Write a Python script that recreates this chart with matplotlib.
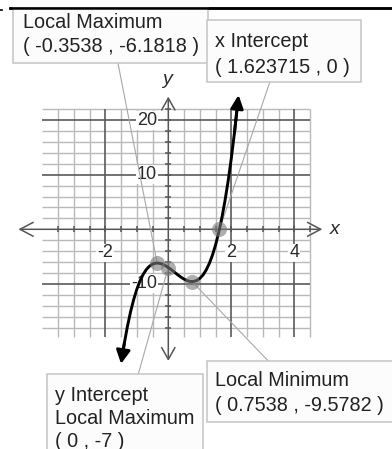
import matplotlib
matplotlib.use('Agg')
import matplotlib.pyplot as plt
from matplotlib.patches import Rectangle
from matplotlib.lines import Line2D

# ---- data ----
curve_x = [-1.5, -1.45, -1.4, -1.3, -1.2, -1.1, -1.0, -0.9, -0.8, -0.7, -0.6, -0.5,
           -0.4, -0.3, -0.2, -0.1, 0.0, 0.1, 0.2, 0.3, 0.4, 0.5, 0.6, 0.7, 0.8,
           0.9, 1.0, 1.1, 1.2, 1.3, 1.4, 1.5, 1.6, 1.7, 1.8, 1.9, 2.0, 2.1, 2.2, 2.23]
curve_y = [-24.625, -22.75, -21.0, -17.855, -15.16, -12.885, -11.0, -9.475, -8.28,
           -7.385, -6.76, -6.375, -6.2, -6.205, -6.36, -6.635, -7.0, -7.425, -7.88,
           -8.335, -8.76, -9.125, -9.4, -9.555, -9.56, -9.385, -9.0, -8.375, -7.48,
           -6.285, -4.76, -2.875, -0.6, 2.095, 5.24, 8.865, 13.0, 17.675, 22.92, 24.61]

point_x = [-0.3538, 0.0, 0.7538, 1.623715]
point_y = [-6.1818, -7.0, -9.5782, 0.0]

x_tick_vals = [-2, 2, 4]
x_tick_labels = ['-2', '2', '4']
y_tick_vals = [-10, 10, 20]
y_tick_labels = ['-10', '10', '20']

box_lines = [
    ['Local Maximum', '( -0.3538 , -6.1818 )'],
    ['x Intercept', '( 1.623715 , 0 )'],
    ['y Intercept', 'Local Maximum', '( 0 , -7 )'],
    ['Local Minimum', '( 0.7538 , -9.5782 )'],
]
box_point = [0, 3, 1, 2]

# ---- layout (pixels, top-left origin) ----
W, H = 392, 449
X0, SX = 168.3, 31.5
Y0, SY = 229.3, 5.46
box_rects = [(13.3, 8.3, 208.0, 63.3), (206.7, 20.0, 360.7, 81.7),
             (47.3, 374.0, 203.3, 470.0), (206.7, 360.7, 410.0, 421.7)]
box_text_pos = [(22.7, [27.5, 52.2]), (215.0, [47.3, 73.0]),
                (55.0, [400.7, 424.0, 446.8]), (215.0, [386.5, 411.0])]
leader_anchor = [(118.0, 63.3), (270.0, 81.7), (138.3, 374.0), (268.0, 360.7)]

plt.rcParams['font.family'] = ['Liberation Sans', 'DejaVu Sans']

fig = plt.figure(figsize=(W / 100, H / 100), dpi=100)
fig.patch.set_facecolor('white')
ax = fig.add_axes([0, 0, 1, 1])
ax.set_xlim(-X0 / SX, (W - X0) / SX)
ax.set_ylim(-(H - Y0) / SY, Y0 / SY)
ax.axis('off')


def fp(x, y):
    return (x / W, 1 - y / H)


minor_c, major_c, axis_c = '#b9b9b9', '#5a5a5a', '#555555'

# grid
gy_lo, gy_hi = -19.7, 22
gx_lo, gx_hi = -4, 4.5
for i in range(-7, 10):
    gx = i * 0.5
    if gx == 0:
        continue
    major = gx in (-2, 2, 4)
    ax.plot([gx, gx], [gy_lo, gy_hi], color=major_c if major else minor_c,
            lw=1.2 if major else 1.0, zorder=2 if major else 1, solid_capstyle='butt')
for gy in range(-18, 23, 2):
    if gy == 0:
        continue
    major = gy in (-10, 10, 20)
    ax.plot([gx_lo, gx_hi], [gy, gy], color=major_c if major else minor_c,
            lw=1.2 if major else 1.0, zorder=2 if major else 1, solid_capstyle='butt')

# axes with open arrows
ax.annotate('', xy=(4.89, 0), xytext=(-4.76, 0),
            arrowprops=dict(arrowstyle='<->,head_length=0.95,head_width=0.5',
                            color=axis_c, lw=1.1, shrinkA=0, shrinkB=0), zorder=2.5)
ax.annotate('', xy=(0, 24.3), xytext=(0, -24.1),
            arrowprops=dict(arrowstyle='<->,head_length=0.85,head_width=0.48',
                            color=axis_c, lw=1.1, shrinkA=0, shrinkB=0), zorder=2.5)

xt = [i * 0.5 for i in range(-7, 10) if i != 0]
ax.plot(xt, [0] * len(xt), ls='none', marker='|', ms=5, mew=1.1, color=axis_c, zorder=2.6)
yt = [v for v in range(-18, 23, 2) if v != 0]
ax.plot([0] * len(yt), yt, ls='none', marker='_', ms=5, mew=1.1, color=axis_c, zorder=2.6)

# tick labels
for v, s in zip(x_tick_vals, x_tick_labels):
    ax.text(v, -4.34, s, ha='center', va='center', fontsize=13, color='#2a2a2a', zorder=3,
            bbox=dict(boxstyle='square,pad=0.05', fc='white', ec='none'))
for v, s in zip(y_tick_vals, y_tick_labels):
    ax.text(-0.36, v, s, ha='right', va='center', fontsize=13, color='#2a2a2a', zorder=3,
            bbox=dict(boxstyle='square,pad=0.05', fc='white', ec='none'))

fig.text(*fp(334.3, 229.3), 'x', ha='center', va='center', fontsize=14,
         style='italic', color='#2a2a2a')
fig.text(*fp(166.7, 79.0), 'y', ha='center', va='center', fontsize=14,
         style='italic', color='#2a2a2a')

# leader lines
for (ax_px, ay_px), pi in zip(leader_anchor, box_point):
    ax.annotate('', xy=(point_x[pi], point_y[pi]), xytext=fp(ax_px, ay_px),
                textcoords='figure fraction',
                arrowprops=dict(arrowstyle='-', color='#a8a8a8', lw=0.8,
                                shrinkA=0, shrinkB=0), zorder=3)

# curve with arrowheads
ax.plot(curve_x[1:-1], curve_y[1:-1], color='black', lw=2.1, zorder=4,
        solid_capstyle='butt')
ax.annotate('', xy=(curve_x[-1], curve_y[-1]), xytext=(curve_x[-3], curve_y[-3]),
            arrowprops=dict(arrowstyle='-|>,head_length=0.8,head_width=0.38',
                            color='black', lw=2.1, shrinkA=0, shrinkB=0), zorder=4)
ax.annotate('', xy=(curve_x[0], curve_y[0]), xytext=(curve_x[2], curve_y[2]),
            arrowprops=dict(arrowstyle='-|>,head_length=0.8,head_width=0.42',
                            color='black', lw=2.1, shrinkA=0, shrinkB=0), zorder=4)

# key points
ax.plot(point_x, point_y, ls='none', marker='o', ms=10.8, color='#7a7a7a',
        alpha=0.6, mew=0, zorder=5)

# top border line
fig.add_artist(Line2D([10 / W, 1], [1 - 8.3 / H] * 2, color='black', lw=1.8))
fig.add_artist(Line2D([0, 2 / W], [1 - 10 / H] * 2, color='black', lw=1.2))

# annotation boxes
for (x1, y1, x2, y2), (tx, bls), lines in zip(box_rects, box_text_pos, box_lines):
    r = Rectangle(fp(x1, y2), (x2 - x1) / W, (y2 - y1) / H, transform=fig.transFigure,
                  facecolor='#fcfcfc', edgecolor='#c4c4c4', lw=1.1, zorder=6)
    fig.add_artist(r)
    for bl, s in zip(bls, lines):
        t = fig.text(*fp(tx, bl), s, ha='left', va='baseline', fontsize=14.3,
                     color='#222222', zorder=7)

# redraw top border over box 1
fig.add_artist(Line2D([10 / W, 1], [1 - 8.3 / H] * 2, color='black', lw=1.8, zorder=8))

fig.savefig('out.png', dpi=100, facecolor='white')
